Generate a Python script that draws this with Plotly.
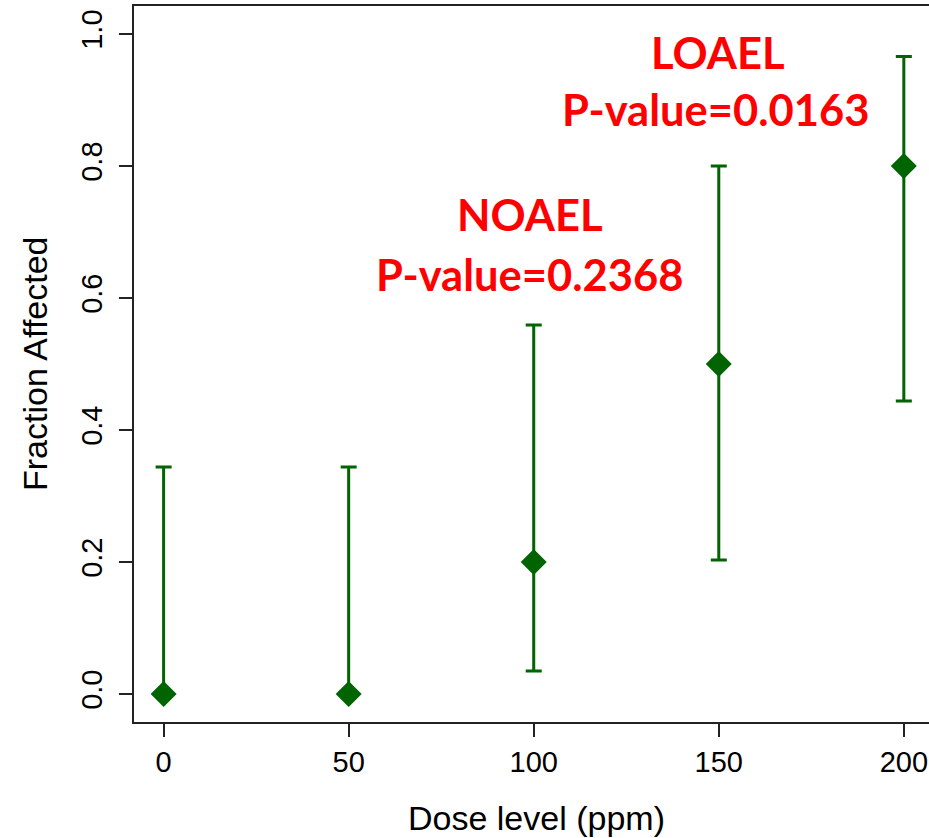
import numpy as np
import plotly.graph_objects as go

# Dose groups and observed fraction of animals affected
dose = [0, 50, 100, 150, 200]
fraction = [0.0, 0.0, 0.2, 0.5, 0.8]
# Confidence limits for each dose group
ci_lower = [0.0, 0.0, 0.035, 0.203, 0.444]
ci_upper = [0.344, 0.344, 0.559, 0.800, 0.966]

x_ticks = [0, 50, 100, 150, 200]
y_ticks = [0.0, 0.2, 0.4, 0.6, 0.8, 1.0]

GREEN = "#006400"
RED = "#ff0000"

err_plus = (np.array(ci_upper) - np.array(fraction)).tolist()
err_minus = (np.array(fraction) - np.array(ci_lower)).tolist()

fig = go.Figure()
fig.add_trace(go.Scatter(
    x=dose, y=fraction, mode="markers",
    marker=dict(symbol="diamond", size=20, color=GREEN, line=dict(width=0)),
    error_y=dict(type="data", array=err_plus, arrayminus=err_minus,
                 symmetric=False, color=GREEN, thickness=3, width=8),
    showlegend=False, hoverinfo="skip",
))

axis_font = dict(family="Liberation Sans, Arial, sans-serif", size=29, color="#000")

fig.update_layout(
    width=929, height=838,
    margin=dict(l=134, r=0, t=6, b=116),
    paper_bgcolor="white", plot_bgcolor="white",
    xaxis=dict(
        range=[-8, 206.8], tickvals=x_ticks, ticktext=[str(v) for v in x_ticks],
        showgrid=False, zeroline=False,
        showline=True, linecolor="#222", linewidth=1.5, mirror=True,
        ticks="outside", ticklen=13, tickwidth=1.5, tickcolor="#222",
        tickfont=axis_font,
    ),
    yaxis=dict(
        range=[-0.0424, 1.0424], tickvals=y_ticks,
        ticktext=[f"{v:.1f}" for v in y_ticks],
        showgrid=False, zeroline=False,
        showline=True, linecolor="#222", linewidth=1.5,
        ticks="outside", ticklen=13, tickwidth=1.5, tickcolor="#222",
        tickangle=-90, tickfont=axis_font, ticklabelstandoff=6,
    ),
)

title_font = dict(family="Liberation Sans, Arial, sans-serif", size=34, color="#000")
fig.add_annotation(text="Dose level (ppm)", xref="paper", yref="paper",
                   x=0.5057, y=-0.134, xanchor="center", yanchor="middle",
                   showarrow=False, font=title_font)
fig.add_annotation(text="Fraction Affected", xref="paper", yref="paper",
                   x=-0.1245, y=0.5, xanchor="center", yanchor="middle",
                   textangle=-90, showarrow=False, font=title_font)

label_font = dict(family="Lato, sans-serif", size=43.5, color=RED, weight="bold")
labels = [
    ("NOAEL", 98.9, 0.727),
    ("P-value=0.2368", 98.9, 0.636),
    ("LOAEL", 149.9, 0.972),
    ("P-value=0.0163", 149.1, 0.886),
]
for text, lx, ly in labels:
    fig.add_annotation(text=f"<b>{text}</b>", x=lx, y=ly, xref="x", yref="y",
                       xanchor="center", yanchor="middle", showarrow=False,
                       font=label_font)

fig.write_html("out.html")
